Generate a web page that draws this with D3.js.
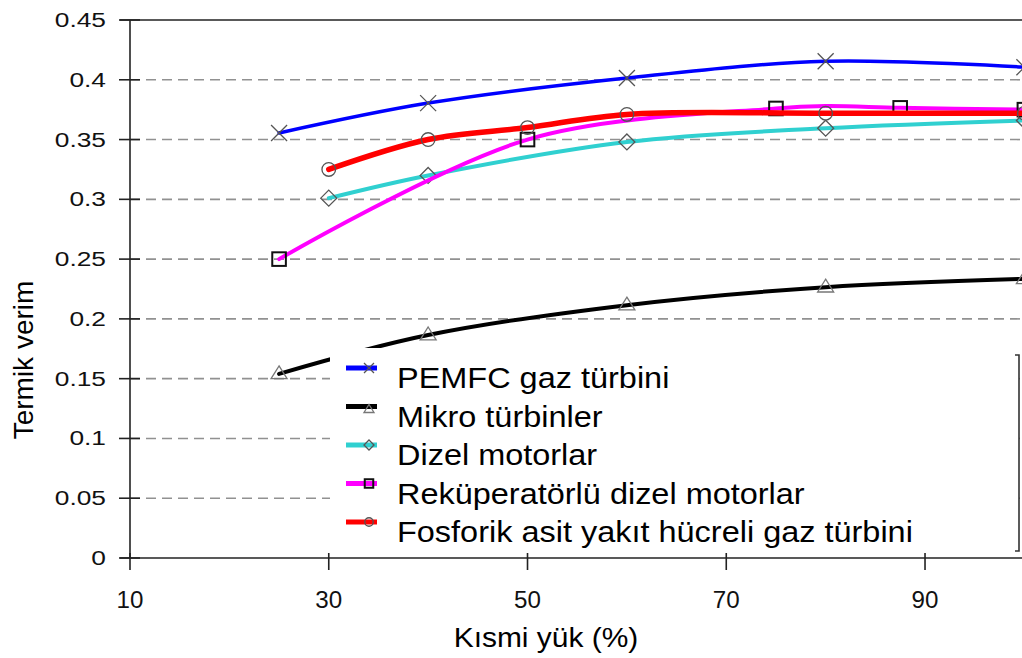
<!DOCTYPE html>
<html>
<head>
<meta charset="utf-8">
<script src="https://cdn.jsdelivr.net/npm/d3@7"></script>
<style>
  html, body { margin: 0; padding: 0; background: #fff; }
  svg { display: block; font-family: "Liberation Sans", Arial, sans-serif; }
</style>
</head>
<body>
<svg id="chart" width="1022" height="658"></svg>
<script>
// ---- data ----
const xTicks = [10, 30, 50, 70, 90];
const yTicks = [0, 0.05, 0.1, 0.15, 0.2, 0.25, 0.3, 0.35, 0.4, 0.45];
const yTickLabels = ["0", "0.05", "0.1", "0.15", "0.2", "0.25", "0.3", "0.35", "0.4", "0.45"];
const seriesNames = ["PEMFC gaz türbini", "Mikro türbinler", "Dizel motorlar", "Reküperatörlü dizel motorlar", "Fosforik asit yakıt hücreli gaz türbini"];
const seriesColors = ["#0000ff", "#000000", "#30d0d0", "#ff00ff", "#ff0000"];
const seriesMarkers = ["x", "triangle", "diamond", "square", "circle"];

const pemfcX = [25, 40, 60, 80, 100];
const pemfcY = [0.3555, 0.3805, 0.4015, 0.4155, 0.4105];
const mikroX = [25, 40, 60, 80, 100];
const mikroY = [0.154, 0.1865, 0.2115, 0.2265, 0.2335];
const dizelX = [30, 40, 60, 80, 100];
const dizelY = [0.301, 0.320, 0.348, 0.3595, 0.366];
const rekupX = [25, 50, 75, 80, 87.5, 100];
const rekupY = [0.25, 0.35, 0.376, 0.378, 0.3765, 0.375];
const rekupMarked = [true, true, true, false, true, true];
const fosfX = [30, 40, 50, 60, 80, 100];
const fosfY = [0.325, 0.350, 0.360, 0.371, 0.372, 0.372];

const xTitle = "Kısmi yük (%)";
const yTitle = "Termik verim";

const seriesData = [
  {x: pemfcX, y: pemfcY},
  {x: mikroX, y: mikroY},
  {x: dizelX, y: dizelY},
  {x: rekupX, y: rekupY, marked: rekupMarked},
  {x: fosfX, y: fosfY}
];

// ---- styling / layout ----
const lineWidths = [3.5, 4, 4, 4, 5.5];

const svg = d3.select("#chart");
const W = 1022, H = 658;
const x = d3.scaleLinear().domain([10, 100]).range([130, 1024.4]);
const y = d3.scaleLinear().domain([0, 0.45]).range([558, 20]);

// grid
svg.append("g").selectAll("line")
  .data(yTicks.filter(d => d > 0 && d < 0.45))
  .join("line")
  .attr("x1", x(10)).attr("x2", W)
  .attr("y1", d => y(d)).attr("y2", d => y(d))
  .attr("stroke", "#919191").attr("stroke-width", 1.6)
  .attr("stroke-dasharray", "10,6");

// top border
svg.append("line").attr("x1", 120).attr("x2", W).attr("y1", y(0.45)).attr("y2", y(0.45))
  .attr("stroke", "#222").attr("stroke-width", 1.6);

// series
const line = d3.line().x(d => x(d[0])).y(d => y(d[1])).curve(d3.curveCatmullRom.alpha(0.5));

function drawMarker(g, type, cx, cy, s) {
  if (type === "x") {
    g.append("path").attr("d", `M${cx-s},${cy-s}L${cx+s},${cy+s}M${cx-s},${cy+s}L${cx+s},${cy-s}`)
      .attr("stroke", "#555").attr("stroke-width", 1.3).attr("fill", "none");
  } else if (type === "triangle") {
    g.append("path").attr("d", `M${cx},${cy-s}L${cx+s},${cy+s*0.6}L${cx-s},${cy+s*0.6}Z`)
      .attr("stroke", "#777").attr("stroke-width", 1.3).attr("fill", "none");
  } else if (type === "diamond") {
    g.append("path").attr("d", `M${cx},${cy-s}L${cx+s},${cy}L${cx},${cy+s}L${cx-s},${cy}Z`)
      .attr("stroke", "#555").attr("stroke-width", 1.3).attr("fill", "none");
  } else if (type === "square") {
    const h = s * 0.85;
    g.append("rect").attr("x", cx-h).attr("y", cy-h).attr("width", 2*h).attr("height", 2*h)
      .attr("stroke", "#111").attr("stroke-width", 2).attr("fill", "none");
  } else if (type === "circle") {
    g.append("circle").attr("cx", cx).attr("cy", cy).attr("r", s*0.85)
      .attr("stroke", "#555").attr("stroke-width", 1.3).attr("fill", "none");
  }
}

seriesData.forEach((s, i) => {
  const pts = s.x.map((v, k) => [v, s.y[k]]);
  const g = svg.append("g");
  g.append("path").datum(pts).attr("d", line)
    .attr("fill", "none").attr("stroke", seriesColors[i]).attr("stroke-width", lineWidths[i])
    .attr("stroke-linejoin", "round").attr("stroke-linecap", "round");
  pts.forEach((p, k) => {
    if (s.marked && !s.marked[k]) return;
    drawMarker(g, seriesMarkers[i], x(p[0]), y(p[1]), 8);
  });
});

// legend box (white, covers lines)
const lg = svg.append("g");
lg.append("rect").attr("x", 330).attr("y", 348).attr("width", 689).attr("height", 204).attr("fill", "#fff");
lg.append("path").attr("d", "M1015,355H1019V551H1015").attr("fill", "none").attr("stroke", "#333").attr("stroke-width", 1.6);
seriesNames.forEach((name, i) => {
  const by = 388 + i * 38.5;
  const ly = by - 20;
  lg.append("line").attr("x1", 346).attr("x2", 377).attr("y1", ly).attr("y2", ly)
    .attr("stroke", seriesColors[i]).attr("stroke-width", 5);
  drawMarker(lg, seriesMarkers[i], 369, ly + (seriesMarkers[i] === "triangle" ? 3 : 0), 5);
  lg.append("text").attr("transform", `translate(397,${by}) scale(1.12,1)`)
    .attr("font-size", 29).attr("fill", "#000").text(name);
});

// y axis
svg.append("line").attr("x1", 130).attr("x2", 130).attr("y1", 20).attr("y2", 558)
  .attr("stroke", "#222").attr("stroke-width", 1.6);
yTicks.forEach((t, i) => {
  svg.append("line").attr("x1", 119).attr("x2", 140).attr("y1", y(t)).attr("y2", y(t))
    .attr("stroke", "#222").attr("stroke-width", 1.6);
  svg.append("text").attr("transform", `translate(106,${y(t) + 7}) scale(1.35,1)`)
    .attr("text-anchor", "end").attr("font-size", 19.5).attr("fill", "#111").text(yTickLabels[i]);
});

// x axis
svg.append("line").attr("x1", 120).attr("x2", W).attr("y1", 558).attr("y2", 558)
  .attr("stroke", "#222").attr("stroke-width", 1.6);
xTicks.forEach(t => {
  svg.append("line").attr("x1", x(t)).attr("x2", x(t)).attr("y1", 553).attr("y2", 570)
    .attr("stroke", "#222").attr("stroke-width", 1.6);
  svg.append("text").attr("transform", `translate(${x(t)},608) scale(1.05,1)`)
    .attr("text-anchor", "middle").attr("font-size", 23).attr("fill", "#111").text(t);
});

// titles
svg.append("text").attr("transform", "translate(546,647) scale(1.07,1)").attr("text-anchor", "middle")
  .attr("font-size", 28).attr("fill", "#000").text(xTitle);
svg.append("text").attr("transform", "translate(33,360) rotate(-90)").attr("text-anchor", "middle")
  .attr("font-size", 28).attr("fill", "#000").text(yTitle);
</script>
</body>
</html>
